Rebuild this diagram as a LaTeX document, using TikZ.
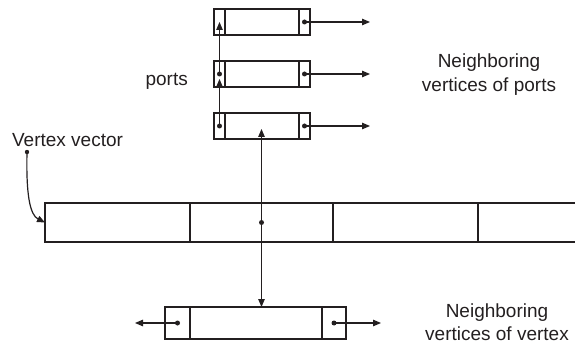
\documentclass[tikz,border=0pt]{standalone}
\usepackage{fontspec}
\setmainfont{Liberation Sans}
\usetikzlibrary{arrows.meta}
\definecolor{ink}{HTML}{231F20}
\begin{document}
\begin{tikzpicture}[x=1pt,y=-1pt,
  line width=1.2pt, draw=ink,
  cellbox/.style={draw=ink, inner sep=0pt, outer sep=0pt, anchor=north west},
  portcell/.style={cellbox, minimum height=26pt},
  veccell/.style={cellbox, minimum height=39pt},
  nbcell/.style={cellbox, minimum height=32pt},
  arr/.style={draw=ink, -{Triangle[length=8pt,width=6.5pt]}},
  dotr/.style={fill=ink},
  lbl/.style={font=\fontsize{19}{23.5}\selectfont, text=ink, inner sep=0pt, anchor=base},
]
\useasboundingbox (0,0) rectangle (575,347);

% port records: small cell | body | small cell
\foreach \k/\y in {1/9, 2/61, 3/113} {
  \node[portcell, minimum width=11pt] (p\k L) at (214,\y) {};
  \node[portcell, minimum width=74pt] (p\k M) at (225,\y) {};
  \node[portcell, minimum width=11pt] (p\k R) at (299,\y) {};
}

% vertex vector
\node[veccell, minimum width=145pt] (v1) at (45,203) {};
\node[veccell, minimum width=143pt] (v2) at (190,203) {};
\node[veccell, minimum width=145pt] (v3) at (333,203) {};
\coordinate (vEndTop) at (576,203);
\coordinate (vEndBot) at (576,242);
\draw (v3.north east) -- (vEndTop);
\draw (v3.south east) -- (vEndBot);

% neighbour record of a vertex
\node[nbcell, minimum width=25pt] (bL) at (165,307) {};
\node[nbcell, minimum width=132pt] (bM) at (190,307) {};
\node[nbcell, minimum width=24pt] (bR) at (322,307) {};

% free arrow ends
\coordinate (o1) at (370,22);
\coordinate (o2) at (370,74);
\coordinate (o3) at (370,126);
\coordinate (c2) at (219.5,79);
\coordinate (p3tip) at (261.5,129);
\coordinate (bout L) at (135,323);
\coordinate (bout R) at (381,323);
\coordinate (vvdot) at (27,152);

% outgoing neighbour pointers of the ports
\foreach \k in {1,2,3} {
  \fill[dotr] (p\k R.center) circle (2.5pt);
  \draw[arr] (p\k R.center) -- (o\k);
}

% chain between ports
\fill[dotr] (p3L.center) circle (2.5pt);
\fill[dotr] (p2L.center) circle (2.5pt);
\draw[arr] (p3L.center) -- (c2);
\draw[arr] (p2L.center) -- (p1L.center);

% vertex entry pointers
\fill[dotr] (v2.center) circle (2.5pt);
\draw[arr] (v2.center) -- (p3tip);
\draw[arr] (v2.center) -- (v2.center |- bM.north);

% neighbours of the vertex
\fill[dotr] (bL.center) circle (2.5pt);
\draw[arr] (bL.center) -- (bout L);
\fill[dotr] (bR.center) circle (2.5pt);
\draw[arr] (bR.center) -- (bout R);

% label pointer
\fill[dotr] (vvdot) circle (2.2pt);
\draw[arr] (vvdot) .. controls (26,195) and (30,215) .. (v1.west);

% labels
\node[lbl, anchor=base west] (tVV) at (11.5,147) {Vertex vector};
\node[lbl, anchor=base west] (tPorts) at (145,85.5) {ports};
\node[lbl] (tNP1) at (489,68) {Neighboring};
\node[lbl] (tNP2) at (489,91.5) {vertices of ports};
\node[lbl] (tNV1) at (497,317) {Neighboring};
\node[lbl] (tNV2) at (497,340.5) {vertices of vertex};
\end{tikzpicture}
\end{document}
